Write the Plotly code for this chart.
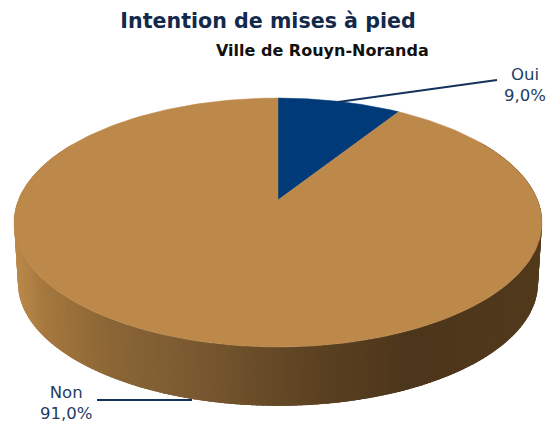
import numpy as np
import plotly.graph_objects as go

categories = ["Oui", "Non"]
shares = [9.0, 91.0]
slice_colors = ["#003A78", "#BC894A"]
title_text = "Intention de mises à pied"
subtitle_text = "Ville de Rouyn-Noranda"

W, H = 549, 424
CX, CY = 278, 200      # pixel position of the pie centre
A, B, P = 259.6, 120.4, 0.181   # perspective of the disc
DEPTH = 61
WALL_SCALE = 0.985

wall_x = [14, 40, 100, 170, 250, 330, 400, 470, 542]
wall_r = [186, 165, 140, 125, 105, 88, 76, 78, 82]
wall_g = [137, 120, 102, 92, 76, 62, 54, 55, 58]
wall_b = [74, 62, 54, 50, 40, 32, 27, 27, 28]


def project(theta, scale=1.0, dy=0.0):
    """theta in radians, clockwise from 12 o'clock."""
    u, v = np.sin(theta), np.cos(theta)
    d = 1 + P * v
    return CX + scale * A * u / d, CY - scale * B * v / d + dy


fig = go.Figure()

# side wall, as narrow overlapping strips drawn from right to left
edges = np.radians(np.arange(60, 300.01, 1.0))
for t0, t1 in zip(edges[:-1], edges[1:]):
    ts = np.array([t0 - np.radians(1.5), t1])
    x_top, y_top = project(ts)
    x_bot, y_bot = project(ts[::-1], WALL_SCALE, DEPTH)
    xm = project((t0 + t1) / 2)[0]
    col = "rgb({:.0f},{:.0f},{:.0f})".format(
        np.interp(xm, wall_x, wall_r), np.interp(xm, wall_x, wall_g), np.interp(xm, wall_x, wall_b))
    fig.add_trace(go.Scatter(
        x=np.r_[x_top, x_bot], y=np.r_[y_top, y_bot], mode="lines", fill="toself",
        fillcolor=col, line=dict(width=0), hoverinfo="skip", showlegend=False))

# top face, one sector per category
start = 0.0
total = sum(shares)
for cat, val, col in zip(categories, shares, slice_colors):
    end = start + val / total * 2 * np.pi
    ts = np.linspace(start, end, 240)
    x, y = project(ts)
    fig.add_trace(go.Scatter(
        x=np.r_[CX, x, CX], y=np.r_[CY, y, CY], mode="lines", fill="toself",
        fillcolor=col, line=dict(color=col, width=0.5), name=cat,
        text=f"{cat} {val:.1f}%".replace(".", ","), hoverinfo="text", showlegend=False))
    start = end

# leader lines
LINE = "#14335C"
fig.add_trace(go.Scatter(x=[338, 497], y=[102, 80], mode="lines",
                         line=dict(color=LINE, width=1.8), hoverinfo="skip", showlegend=False))
fig.add_trace(go.Scatter(x=[97, 192], y=[400, 400], mode="lines",
                         line=dict(color=LINE, width=1.8), hoverinfo="skip", showlegend=False))


def pct(v):
    return f"{v:.1f}%".replace(".", ",")


fig.add_annotation(x=525, y=85, text=f"{categories[0]}<br>{pct(shares[0])}", showarrow=False,
                   font=dict(family="DejaVu Sans", size=16.5, color="#1F3D63"), align="center")
fig.add_annotation(x=66, y=403, text=f"{categories[1]}<br>{pct(shares[1])}", showarrow=False,
                   font=dict(family="DejaVu Sans", size=16.5, color="#1F3D63"), align="center")
fig.add_annotation(x=322, y=50, text=f"<b>{subtitle_text}</b>", showarrow=False,
                   font=dict(family="DejaVu Sans", size=16, color="#111111"))

fig.update_layout(
    width=W, height=H, autosize=False,
    margin=dict(l=0, r=0, t=0, b=0),
    paper_bgcolor="white", plot_bgcolor="white",
    title=dict(text=f"<b>{title_text}</b>", x=268 / W, xanchor="center", y=1 - 21 / H, yanchor="middle",
               font=dict(family="DejaVu Sans", size=20.6, color="#13294B")),
    xaxis=dict(range=[0, W], visible=False, fixedrange=True),
    yaxis=dict(range=[H, 0], visible=False, fixedrange=True),
)
fig.write_html("out.html", config=dict(displayModeBar=False),
               post_script="document.body.style.margin='0';document.documentElement.style.overflow='hidden';")
